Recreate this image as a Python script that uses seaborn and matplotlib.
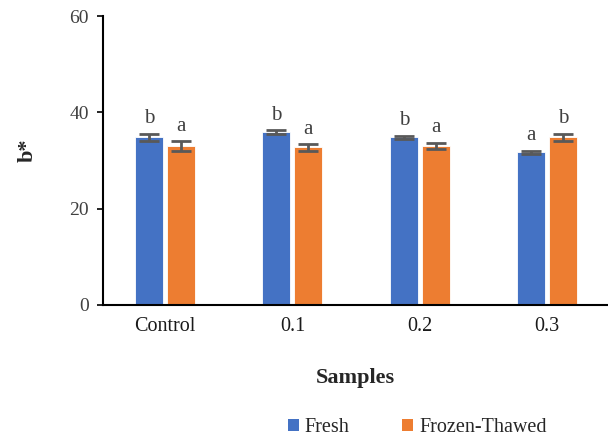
import matplotlib
matplotlib.use("Agg")
import matplotlib.pyplot as plt
import seaborn as sns
import pandas as pd
from matplotlib.patches import Patch

samples = ["Control", "0.1", "0.2", "0.3"]
fresh = [34.8, 35.9, 34.8, 31.7]
fresh_sd = [0.8, 0.35, 0.35, 0.3]
fresh_letters = ["b", "b", "b", "a"]
thawed = [33.0, 32.7, 33.0, 34.8]
thawed_sd = [1.0, 0.7, 0.7, 0.7]
thawed_letters = ["a", "a", "a", "b"]
groups = ["Fresh", "Frozen-Thawed"]
colors = ["#4472C4", "#ED7D31"]

df = pd.DataFrame({
    "Samples": samples * 2,
    "b*": fresh + thawed,
    "Group": [groups[0]] * 4 + [groups[1]] * 4,
})

sns.set_style("white")
plt.rcParams["font.family"] = ["Liberation Serif", "DejaVu Serif"]

fig = plt.figure(figsize=(6.08, 4.41), dpi=100)
ax = fig.add_axes([0.169, 0.3084, 0.831, 0.6553])

sns.barplot(data=df, x="Samples", y="b*", hue="Group", order=samples,
            hue_order=groups, palette=colors, saturation=1, width=0.5, gap=0.12,
            errorbar=None, edgecolor="white", linewidth=0.6, legend=False, ax=ax)

# bars come in hue order: first all Fresh, then all Frozen-Thawed
vals = fresh + thawed
sds = fresh_sd + thawed_sd
letters = fresh_letters + thawed_letters
for patch, v, sd, lab in zip(ax.patches[:8], vals, sds, letters):
    cx = patch.get_x() + patch.get_width() / 2
    ax.errorbar(cx, v, yerr=sd, color="#595959", capsize=7, capthick=2,
                elinewidth=2, fmt="none", zorder=5)
    ax.annotate(lab, (cx, v + sd), xytext=(0, 4), textcoords="offset points",
                ha="center", va="bottom", fontsize=15, color="#404040")

ax.set_ylim(0, 60)
ax.set_yticks([0, 20, 40, 60])
ax.set_xlim(-0.49, 3.48)
for s in ["top", "right"]:
    ax.spines[s].set_visible(False)
for s in ["left", "bottom"]:
    ax.spines[s].set_color("black")
    ax.spines[s].set_linewidth(1.5)
ax.tick_params(axis="y", which="major", direction="out", length=4, width=1.2,
               color="black", labelsize=14, labelcolor="#404040", left=True, pad=6)
ax.tick_params(axis="x", length=0, labelsize=14.5, labelcolor="#1a1a1a", pad=9)

ax.set_ylabel("b*", fontsize=16, fontweight="bold", labelpad=23, y=0.536)
ax.set_xlabel("Samples", fontsize=16, fontweight="bold", labelpad=23)

handles = [Patch(facecolor=c, edgecolor="none") for c in colors]
fig.legend(handles, groups, loc="center", bbox_to_anchor=(0.686, 0.031), ncol=2,
           frameon=False, fontsize=14.5, handlelength=0.55, handleheight=0.55,
           handletextpad=0.3, columnspacing=2.6)

fig.savefig("out.png", dpi=100)
